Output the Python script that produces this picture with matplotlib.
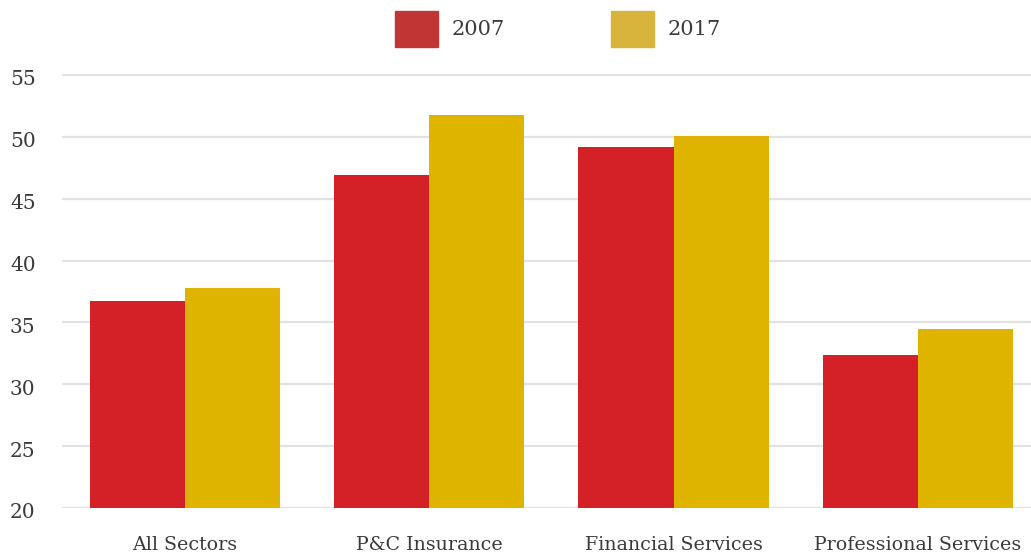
import numpy as np
import matplotlib
matplotlib.use("Agg")
import matplotlib.pyplot as plt
import matplotlib.transforms as mtransforms
from matplotlib.patches import Patch

# sector scores, 2007 vs 2017
categories = ["All Sectors", "P&C Insurance", "Financial Services", "Professional Services"]
series_names = ["2007", "2017"]
values_2007 = [36.7, 46.9, 49.2, 32.4]
values_2017 = [37.8, 51.8, 50.1, 34.5]
y_ticks = [20, 25, 30, 35, 40, 45, 50, 55]

bar_colors = ["#d42027", "#deb400"]
legend_colors = ["#c13634", "#d8b43c"]

plt.rcParams["font.family"] = ["DejaVu Serif"]

fig = plt.figure(figsize=(10.31, 5.57), dpi=100)
ax = fig.add_axes([0.0601, 0.088, 0.9399, 0.7864])

x = np.arange(len(categories))
w = 0.39
ax.bar(x - w / 2, values_2007, width=w, color=bar_colors[0], zorder=3)
ax.bar(x + w / 2, values_2017, width=w, color=bar_colors[1], zorder=3)

ax.set_xlim(-0.503, 3.463)
ax.set_ylim(20, 55.4)
ax.set_yticks(y_ticks)
ax.set_xticks(x)
ax.set_xticklabels(categories, fontsize=13.7, color="#3a3a3a")
ax.tick_params(axis="y", labelsize=14.5, labelcolor="#3a3a3a", length=0, pad=19)

# y labels sit a little below their gridlines
shift = mtransforms.ScaledTranslation(0, -5 / 100, fig.dpi_scale_trans)
for lbl in ax.get_yticklabels():
    lbl.set_verticalalignment("center")
    lbl.set_transform(lbl.get_transform() + shift)
ax.tick_params(axis="x", length=0, pad=20)

ax.yaxis.grid(True, color="#e2e2e2", linewidth=1.6, zorder=0)
ax.set_axisbelow(True)
for s in ax.spines.values():
    s.set_visible(False)

handles = [Patch(color=c) for c in legend_colors]
fig.legend(handles, series_names, loc="center", bbox_to_anchor=(0.541, 0.948),
           ncol=2, frameon=False, fontsize=15, handlelength=2.05, handleheight=2.3,
           handletextpad=0.65, columnspacing=5.1, labelcolor="#3a3a3a")

fig.savefig("out.png", dpi=100)
